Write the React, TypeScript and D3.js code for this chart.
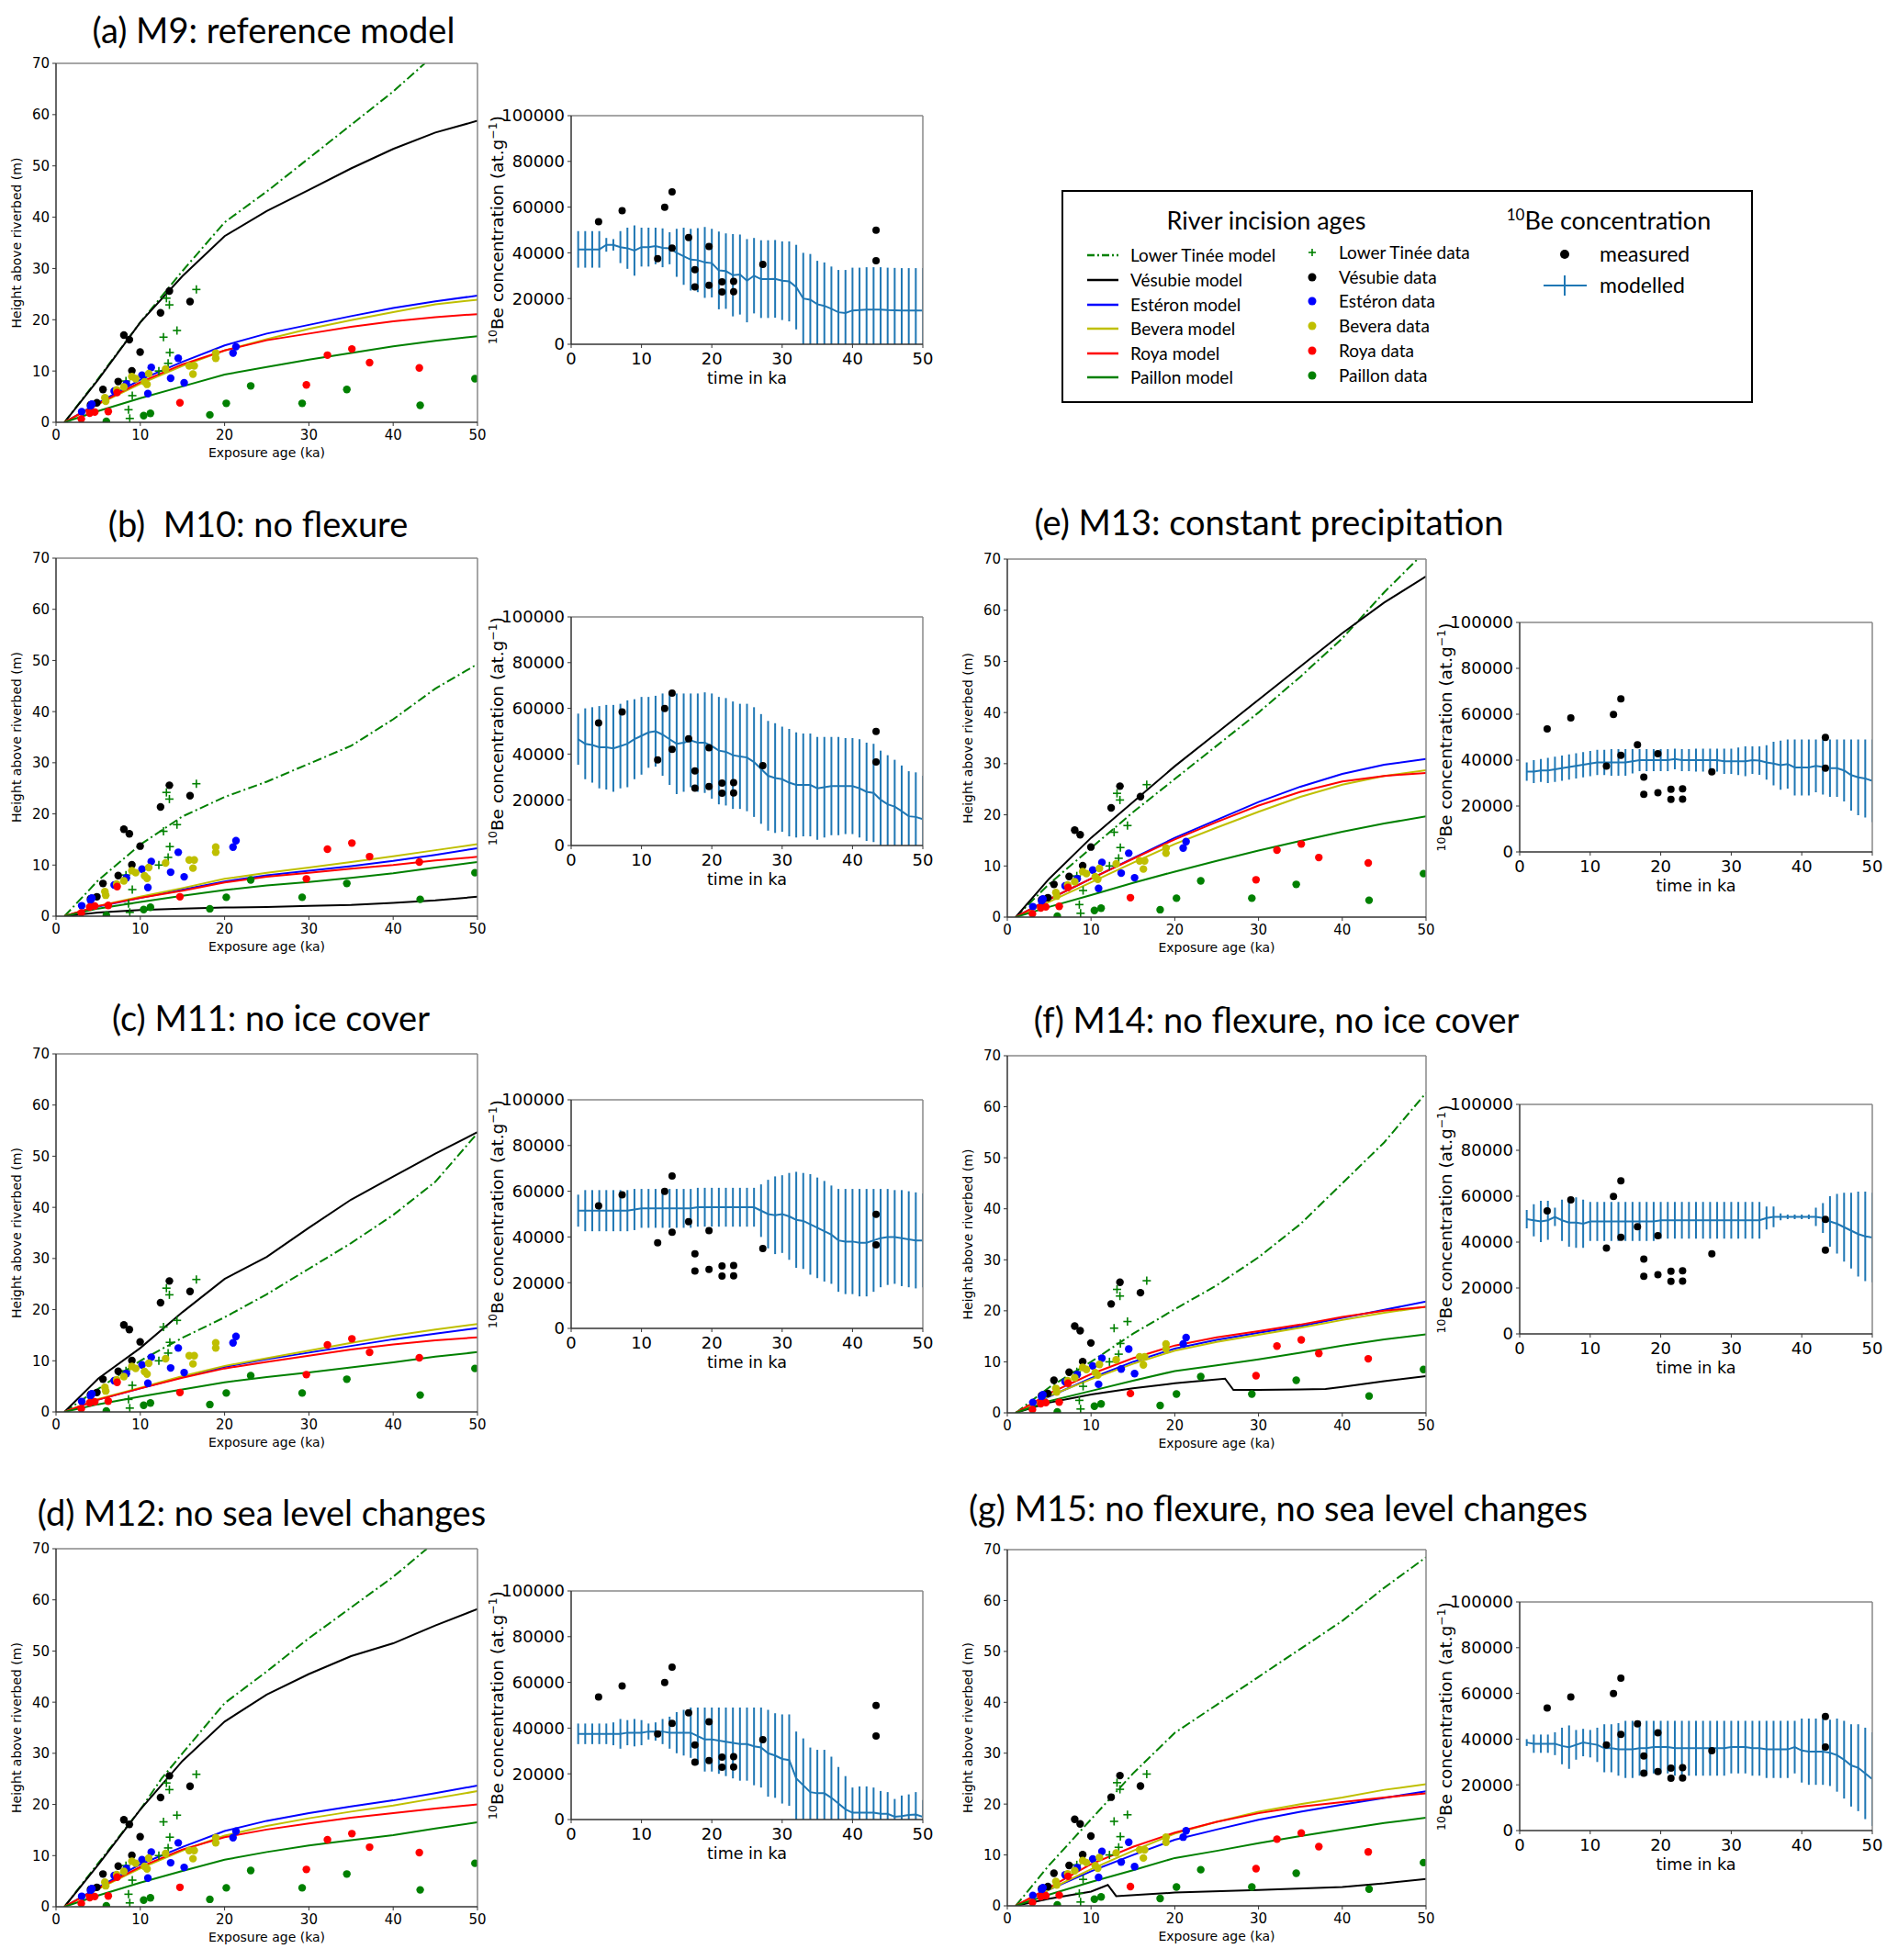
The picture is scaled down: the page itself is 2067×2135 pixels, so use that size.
import React from 'react';
import * as d3 from 'd3';

// ---------- measured data, same in every panel ----------
// terrace heights: [exposure age (ka), height above riverbed (m)]
const tineeObs = [[16.65, 25.9], [13.1, 24.2], [13.45, 22.9], [14.35, 17.9], [12.75, 16.6], [13.5, 13.6], [13.3, 11.5], [12.2, 10.0], [9.05, 5.2], [8.6, 2.45], [8.75, 0.75], [8.3, 8.05]];
const vesubieObs = [[5.57, 6.4], [7.38, 7.95], [8.05, 17.0], [8.7, 16.1], [9.0, 10.05], [9.98, 13.7], [12.4, 21.35], [13.45, 25.6], [15.9, 23.55], [4.85, 3.8], [4.1, 3.4]];
const esteronObs = [[3.05, 2.05], [4.25, 3.55], [4.1, 3.1], [6.9, 6.1], [8.35, 7.5], [10.2, 9.2], [11.3, 10.7], [10.9, 5.6], [14.5, 12.5], [13.6, 8.6], [15.2, 7.7], [21.0, 13.5], [21.35, 14.75]];
const beveraObs = [[5.8, 4.8], [5.9, 4.1], [7.2, 6.3], [8.05, 6.9], [9.0, 8.9], [9.45, 8.5], [11.0, 9.5], [10.8, 7.4], [10.5, 7.9], [13.0, 10.4], [15.8, 11.0], [16.4, 11.0], [16.25, 9.4], [18.95, 13.5], [18.95, 12.5]];
const royaObs = [[3.0, 0.65], [4.0, 1.8], [4.6, 2.0], [6.2, 2.1], [7.25, 5.8], [14.7, 3.8], [29.7, 7.3], [32.2, 13.1], [35.1, 14.3], [37.2, 11.65], [43.1, 10.6]];
const paillonObs = [[5.97, 0.2], [10.4, 1.3], [11.2, 1.75], [18.25, 1.45], [20.2, 3.7], [23.1, 7.1], [29.2, 3.7], [34.5, 6.4], [43.2, 3.3], [49.7, 8.5]];

// measured 10Be concentration
const beObsTime = [3.9, 7.25, 12.3, 13.3, 14.35, 14.35, 16.7, 17.6, 17.6, 19.6, 19.6, 21.45, 21.45, 23.1, 23.1, 27.25, 43.35, 43.35];
const beObsConc = [53600, 58400, 37400, 59900, 66700, 42100, 46700, 32600, 25100, 42800, 25800, 27300, 22900, 27500, 23000, 34900, 49900, 36500];

// ---------- modelled terrace heights (m) ----------
const ages = [1, 5, 10, 15, 20, 25, 30, 35, 40, 45, 50];

const modelA = {
  tinee: { t: [1, 5, 10, 12.5, 15, 20, 25, 30, 35, 40, 43.75], h: [0, 8.5, 19.5, 24.5, 29.5, 39, 45, 51.5, 58, 64.5, 70] },
  vesubie: [0, 8.3, 19.5, 28.5, 36.3, 41.2, 45.3, 49.5, 53.3, 56.5, 58.8],
  esteron: [0, 3.8, 8.3, 11.8, 15.0, 17.3, 19.0, 20.7, 22.3, 23.6, 24.7],
  bevera: [0, 3.5, 7.5, 11.0, 14.0, 16.2, 18.2, 19.9, 21.5, 23.0, 23.9],
  roya: [0, 3.6, 7.8, 11.3, 14.0, 16.0, 17.3, 18.6, 19.7, 20.5, 21.1],
  paillon: [0, 2.2, 4.7, 7.0, 9.3, 10.8, 12.2, 13.5, 14.8, 15.9, 16.8],
};
const modelB = {
  tinee: [0, 7, 14, 19.5, 23.3, 26.3, 29.8, 33.3, 38.5, 44.5, 49.3],
  vesubie: [0, 0.7, 1.2, 1.5, 1.7, 1.8, 2.0, 2.2, 2.6, 3.1, 3.8],
  esteron: [0, 1.9, 3.6, 5.2, 6.8, 8.0, 8.9, 9.8, 10.8, 12.0, 13.3],
  bevera: [0, 2.0, 3.8, 5.5, 7.3, 8.5, 9.5, 10.6, 11.7, 12.9, 14.1],
  roya: [0, 2.0, 3.6, 5.0, 6.6, 7.7, 8.5, 9.3, 10.0, 10.9, 11.6],
  paillon: [0, 1.5, 2.8, 4.0, 5.1, 6.0, 6.7, 7.5, 8.4, 9.5, 10.6],
};
const modelC = {
  tinee: [0, 4.5, 10, 14.5, 18.5, 23, 28, 33, 38.5, 45, 54.5],
  vesubie: [0, 6.5, 12.5, 19.5, 26, 30.3, 36, 41.5, 46, 50.5, 54.7],
  esteron: [0, 2.4, 4.6, 6.8, 8.8, 10.3, 11.6, 12.9, 14.2, 15.3, 16.4],
  bevera: [0, 2.5, 4.7, 7.0, 9.0, 10.5, 12.0, 13.5, 14.9, 16.1, 17.2],
  roya: [0, 2.4, 4.6, 6.7, 8.5, 9.8, 11.0, 12.2, 13.2, 14.0, 14.6],
  paillon: [0, 1.5, 3.0, 4.4, 5.8, 6.8, 7.7, 8.7, 9.7, 10.8, 11.7],
};
const modelD = {
  tinee: { t: [1, 5, 10, 12.5, 15, 20, 25, 30, 35, 40, 44], h: [0, 8.5, 19, 25, 30, 39.8, 46, 52.5, 58.5, 64.5, 70] },
  vesubie: [0, 8.2, 19, 28.5, 36.2, 41.5, 45.5, 49, 51.5, 55, 58.2],
  esteron: [0, 3.8, 8.3, 11.7, 14.8, 16.8, 18.3, 19.6, 20.8, 22.2, 23.7],
  bevera: [0, 3.5, 7.5, 11.0, 13.9, 15.8, 17.3, 18.6, 19.8, 21.2, 22.6],
  roya: [0, 3.6, 7.8, 11.2, 13.6, 15.1, 16.3, 17.4, 18.3, 19.2, 20.0],
  paillon: [0, 2.2, 4.7, 7.0, 9.2, 10.7, 12.0, 13.0, 14.0, 15.3, 16.5],
};
const modelE = {
  tinee: { t: [1, 5, 10, 15, 20, 25, 30, 35, 40, 45, 49], h: [0, 6.5, 13.5, 20.5, 27, 33.5, 40, 47, 54.5, 63.5, 70] },
  vesubie: [0, 7.5, 15.5, 22.5, 29.5, 36, 42.5, 49, 55.5, 61.5, 66.6],
  esteron: [0, 3.5, 7.5, 11.5, 15.5, 19, 22.5, 25.5, 28, 29.8, 30.9],
  bevera: [0, 3.0, 6.8, 10.6, 14.3, 17.5, 20.6, 23.5, 25.9, 27.6, 28.7],
  roya: [0, 3.5, 7.5, 11.4, 15.2, 18.6, 21.8, 24.5, 26.5, 27.6, 28.2],
  paillon: [0, 2.0, 4.3, 6.7, 8.9, 11.0, 13.0, 14.9, 16.7, 18.3, 19.7],
};
const modelF = {
  tinee: [0, 5, 10, 15.5, 20.3, 25, 30.5, 37, 45, 53, 62.7],
  vesubie: { t: [1, 5, 10, 15, 20, 26, 27, 30, 35, 38, 40, 45, 50], h: [0, 2, 3.6, 4.8, 5.8, 6.7, 4.5, 4.5, 4.6, 4.7, 5.1, 6.2, 7.2] },
  esteron: [0, 3.2, 6.8, 10.0, 12.6, 14.3, 15.7, 17.0, 18.6, 20.2, 21.8],
  bevera: [0, 3.3, 6.6, 9.6, 12.2, 13.9, 15.3, 16.7, 18.2, 19.6, 20.8],
  roya: [0, 3.8, 7.6, 10.7, 13.2, 14.8, 16.0, 17.3, 18.8, 20.0, 20.8],
  paillon: [0, 2.3, 4.3, 6.3, 8.2, 9.3, 10.5, 11.8, 13.2, 14.4, 15.4],
};
const modelG = {
  tinee: [0, 8, 17, 26, 34, 39.5, 45, 50.5, 56, 62.5, 68.5],
  vesubie: { t: [1, 5, 10, 12, 13, 20, 30, 40, 45, 50], h: [0, 1.4, 2.8, 4.1, 1.9, 2.6, 3.1, 3.7, 4.4, 5.3] },
  esteron: [0, 3.2, 6.8, 10.0, 13.0, 15.0, 16.9, 18.5, 19.9, 21.2, 22.5],
  bevera: [0, 3.2, 7.2, 10.8, 14.2, 16.5, 18.5, 20.0, 21.3, 22.8, 23.9],
  roya: [0, 3.6, 8.2, 11.6, 14.4, 16.5, 18.2, 19.5, 20.4, 21.3, 22.1],
  paillon: [0, 2.2, 4.7, 7.0, 9.4, 10.8, 12.3, 13.7, 15.0, 16.3, 17.3],
};

// ---------- modelled 10Be concentration, t = 1..50 ka ----------
const beTime = d3.range(1, 51);
const beMeanA = [41500, 41500, 41500, 41500, 43500, 43500, 42500, 42000, 41000, 42500, 42500, 43000, 42200, 42000, 40000, 38500, 37000, 36800, 35800, 35500, 32300, 32000, 30200, 30500, 27800, 30000, 28500, 28500, 28600, 27800, 27500, 25000, 20000, 19500, 17500, 16800, 15500, 14000, 13700, 14800, 15000, 15200, 15200, 15200, 15000, 14900, 14800, 14800, 14800, 14800];
const beErrA = [8000, 8000, 8000, 8000, 3000, 2500, 7000, 9000, 11000, 8500, 8500, 8000, 8500, 7000, 10500, 12500, 13500, 14000, 15500, 15000, 17000, 16500, 18000, 17500, 18200, 16500, 17000, 17000, 17000, 17200, 17500, 18500, 20000, 20000, 19000, 19000, 18500, 18500, 18800, 18700, 18500, 18500, 18500, 18500, 18500, 18500, 18500, 18500, 18500, 18500];
const beMeanB = [46500, 44500, 44000, 43000, 43000, 42500, 43500, 44500, 46500, 48000, 49500, 50000, 48500, 46500, 44500, 45000, 46000, 45000, 45000, 43500, 41500, 41000, 39500, 39000, 38500, 36500, 33500, 30500, 29500, 29000, 27500, 26500, 26500, 26500, 25000, 25500, 26000, 26000, 26000, 26000, 25000, 23500, 23000, 20000, 18000, 17000, 15000, 12800, 12500, 11500];
const beErrB = [11200, 15500, 16500, 18000, 18500, 19000, 18500, 19000, 17500, 17000, 15500, 15500, 18000, 20000, 22000, 21500, 20500, 21500, 22000, 23000, 23500, 23500, 23500, 23000, 23500, 24000, 24000, 24000, 24000, 23000, 23500, 23000, 22500, 22500, 22500, 22000, 21500, 21500, 21000, 21000, 21500, 21500, 21500, 21500, 21500, 20500, 20000, 19700, 19500, 19000];
const beMeanC = [51500, 51500, 51500, 51500, 51500, 51500, 51500, 51500, 52000, 52500, 52500, 52500, 52500, 52500, 52500, 52500, 52500, 53000, 53000, 53000, 53000, 53000, 53000, 53000, 53000, 53000, 51500, 50000, 49500, 50000, 49000, 47500, 47000, 45500, 44000, 42500, 41000, 38500, 38000, 38000, 37500, 37500, 38500, 39500, 40000, 40000, 39500, 39000, 38500, 38500];
const beErrC = [7000, 9000, 9000, 9000, 9000, 9000, 9000, 9000, 9000, 8500, 8500, 8500, 8500, 8500, 8500, 8500, 8500, 8500, 8500, 8500, 8500, 8500, 8500, 8500, 8500, 8500, 11500, 15000, 17000, 17000, 19000, 21000, 21000, 22000, 22000, 22000, 21500, 22500, 23000, 23000, 23500, 23500, 22500, 21500, 21000, 20500, 21000, 21000, 21000, 20500];
const beMeanD = [37500, 37500, 37500, 37500, 37500, 37500, 37500, 38000, 38000, 38000, 38500, 38500, 38500, 38000, 38000, 38000, 38000, 36500, 35000, 35000, 34500, 34000, 33500, 33000, 33000, 32000, 31500, 29000, 28000, 26500, 26000, 18000, 15000, 12000, 11500, 11500, 9500, 7000, 4500, 3000, 3000, 3000, 3000, 2500, 2500, 1200, 1500, 2000, 2200, 1200];
const beErrD = [4500, 4500, 4500, 4500, 4500, 5000, 6500, 5500, 6000, 5500, 3500, 4000, 5500, 7000, 9000, 10000, 11000, 12500, 14000, 14000, 14500, 15000, 15500, 16000, 16000, 17000, 17500, 19000, 18500, 19500, 20000, 20500, 20500, 19500, 19000, 19000, 18000, 16000, 14500, 11000, 11500, 11500, 11000, 10000, 9500, 7800, 9000, 9000, 9800, 7300];
const beMeanE = [35000, 35000, 35500, 35500, 36000, 36500, 37000, 37500, 38000, 38500, 39000, 39000, 39000, 39000, 39000, 39500, 40000, 40000, 40000, 40000, 40000, 40500, 40000, 40000, 40000, 40000, 40000, 40000, 39500, 39500, 39500, 39500, 40000, 39800, 39000, 38500, 37800, 38300, 36800, 36800, 36800, 37500, 37000, 36500, 36500, 35500, 33500, 32500, 32000, 31000];
const beErrE = [4000, 5000, 5000, 5500, 5500, 5500, 5500, 5500, 5500, 5500, 5500, 5500, 5800, 5800, 5800, 5300, 4800, 4800, 4800, 4800, 4800, 4500, 4800, 4800, 5000, 5000, 5000, 5000, 5500, 5500, 6000, 6500, 6000, 6200, 7500, 9500, 10700, 10700, 12200, 12200, 12200, 11500, 12000, 12500, 12500, 13500, 15500, 16500, 17000, 18000];
const beMeanF = [50000, 49500, 49000, 49500, 51000, 49500, 48500, 48500, 48000, 49000, 49000, 49000, 49000, 49000, 49000, 49000, 49000, 49000, 49000, 49500, 49500, 49500, 49500, 49500, 49500, 49500, 49500, 49500, 49500, 49500, 49500, 49500, 49500, 49500, 50500, 51000, 51000, 51000, 51000, 51000, 51000, 51000, 50500, 49000, 48000, 46500, 45000, 43500, 42500, 42000];
const beErrF = [4000, 7000, 9000, 8500, 4000, 9000, 10500, 11000, 10500, 8500, 8500, 8500, 8500, 8500, 8500, 8500, 8500, 8500, 8500, 8000, 8000, 8000, 8000, 8000, 8000, 8000, 8000, 8000, 8000, 8000, 8000, 8000, 8000, 8000, 5000, 4500, 1500, 1000, 1000, 1000, 1000, 4000, 6500, 11000, 13000, 15000, 16500, 18500, 19500, 19500];
const beMeanG = [38500, 38000, 38000, 38000, 38000, 37000, 36500, 37500, 38500, 38000, 37500, 36000, 36000, 35500, 35500, 35500, 36000, 36000, 36500, 36500, 36500, 36000, 36000, 36000, 36000, 36000, 36000, 36000, 36000, 36500, 36500, 36500, 36000, 36000, 35500, 35500, 35500, 35500, 36500, 35000, 34500, 34500, 34500, 34000, 33000, 31000, 28500, 27500, 25000, 22500];
const beErrG = [1500, 4000, 4000, 4000, 5000, 8000, 9500, 6500, 6000, 6000, 7500, 10500, 10500, 11500, 12500, 12500, 12000, 12000, 11500, 11500, 11500, 12000, 12000, 12000, 12000, 12000, 12000, 12000, 12000, 11500, 11500, 11500, 12000, 12000, 12500, 12500, 12500, 12500, 11500, 14000, 14500, 14500, 14500, 14500, 16000, 17000, 18000, 19000, 20000, 20500];

const rivers = ['tinee', 'vesubie', 'esteron', 'bevera', 'roya', 'paillon'];
const riverColor = { tinee: '#008000', vesubie: '#000000', esteron: '#0000ff', bevera: '#bfbf00', roya: '#ff0000', paillon: '#008000' };
const riverLabel = { tinee: 'Lower Tinée', vesubie: 'Vésubie', esteron: 'Estéron', bevera: 'Bevera', roya: 'Roya', paillon: 'Paillon' };
const obs = { vesubie: vesubieObs, esteron: esteronObs, bevera: beveraObs, roya: royaObs, paillon: paillonObs };

const panels = [
  { id: 'a', title: '(a) M9: reference model', tx: 298, ty: 47, left: [61, 69, 520, 460], right: [622, 126, 1005, 375], model: modelA, mean: beMeanA, err: beErrA },
  { id: 'b', title: '(b)  M10: no flexure', tx: 281, ty: 585, left: [61, 608, 520, 998], right: [622, 672, 1005, 921], model: modelB, mean: beMeanB, err: beErrB },
  { id: 'c', title: '(c) M11: no ice cover', tx: 295, ty: 1123, left: [61, 1148, 520, 1538], right: [622, 1198, 1005, 1447], model: modelC, mean: beMeanC, err: beErrC },
  { id: 'd', title: '(d) M12: no sea level changes', tx: 285, ty: 1662, left: [61, 1687, 520, 2077], right: [622, 1733, 1005, 1982], model: modelD, mean: beMeanD, err: beErrD },
  { id: 'e', title: '(e) M13: constant precipitation', tx: 1382, ty: 583, left: [1097, 609, 1553, 999], right: [1655, 678, 2039, 928], model: modelE, mean: beMeanE, err: beErrE },
  { id: 'f', title: '(f) M14: no flexure, no ice cover', tx: 1390, ty: 1125, left: [1097, 1150, 1553, 1539], right: [1655, 1203, 2039, 1453], model: modelF, mean: beMeanF, err: beErrF },
  { id: 'g', title: '(g) M15: no flexure, no sea level changes', tx: 1392, ty: 1657, left: [1097, 1688, 1553, 2076], right: [1655, 1745, 2039, 1994], model: modelG, mean: beMeanG, err: beErrG },
];

const AX_FONT = 'DejaVu Sans, sans-serif';
const TITLE_FONT = 'Lato, sans-serif';
const BE_BLUE = '#1f77b4';
const DASHDOT = '10,3.5,2,3.5';

function toPts(v) {
  return Array.isArray(v) ? ages.map((a, i) => [a, v[i]]) : v.t.map((a, i) => [a, v.h[i]]);
}

function Plus({ cx, cy, s, color }) {
  return (
    <g stroke={color} strokeWidth={1.6}>
      <line x1={cx - s} y1={cy} x2={cx + s} y2={cy} />
      <line x1={cx} y1={cy - s} x2={cx} y2={cy + s} />
    </g>
  );
}

function Frame({ l, t, r, b }) {
  return (
    <g fill="none">
      <line x1={l} y1={t} x2={r} y2={t} stroke="#888" strokeWidth={1.5} />
      <line x1={r} y1={t} x2={r} y2={b} stroke="#888" strokeWidth={1.5} />
      <line x1={l} y1={t} x2={l} y2={b} stroke="#333" strokeWidth={1.5} />
      <line x1={l} y1={b} x2={r} y2={b} stroke="#333" strokeWidth={1.5} />
    </g>
  );
}

function HeightPlot({ id, box, model }) {
  const [l, t, r, b] = box;
  const x = d3.scaleLinear().domain([0, 50]).range([l, r]);
  const y = d3.scaleLinear().domain([0, 70]).range([b, t]);
  const line = d3.line().x(d => x(d[0])).y(d => y(d[1]));
  const clip = `clipH${id}`;
  return (
    <g>
      <defs>
        <clipPath id={clip}><rect x={l} y={t} width={r - l} height={b - t} /></clipPath>
      </defs>
      <g clipPath={`url(#${clip})`}>
        {rivers.map(k => (
          <path key={k} d={line(toPts(model[k]))} fill="none" stroke={riverColor[k]} strokeWidth={2}
            strokeDasharray={k === 'tinee' ? DASHDOT : undefined} />
        ))}
        {tineeObs.map((p, i) => <Plus key={'p' + i} cx={x(p[0])} cy={y(p[1])} s={4.5} color="#008000" />)}
        {Object.keys(obs).map(k => obs[k].map((p, i) => (
          <circle key={k + i} cx={x(p[0])} cy={y(p[1])} r={4.2} fill={riverColor[k]} />
        )))}
      </g>
      <Frame l={l} t={t} r={r} b={b} />
      {x.ticks(5).map(v => (
        <g key={'x' + v}>
          <line x1={x(v)} x2={x(v)} y1={b} y2={b + 4} stroke="#333" />
          <text x={x(v)} y={b + 19} textAnchor="middle" fontSize={15} fontFamily={AX_FONT}>{v}</text>
        </g>
      ))}
      {y.ticks(7).map(v => (
        <g key={'y' + v}>
          <line x1={l - 4} x2={l} y1={y(v)} y2={y(v)} stroke="#333" />
          <text x={l - 7} y={y(v)} dy="0.36em" textAnchor="end" fontSize={15} fontFamily={AX_FONT}>{v}</text>
        </g>
      ))}
      <text x={(l + r) / 2} y={b + 38} textAnchor="middle" fontSize={14} fontFamily={AX_FONT}>Exposure age (ka)</text>
      <text transform={`translate(${l - 38},${(t + b) / 2}) rotate(-90)`} textAnchor="middle" fontSize={14} fontFamily={AX_FONT}>
        Height above riverbed (m)
      </text>
    </g>
  );
}

function ConcPlot({ id, box, mean, err }) {
  const [l, t, r, b] = box;
  const x = d3.scaleLinear().domain([0, 50]).range([l, r]);
  const y = d3.scaleLinear().domain([0, 100000]).range([b, t]);
  const line = d3.line().x((d, i) => x(beTime[i])).y(d => y(d));
  const clip = `clipC${id}`;
  return (
    <g>
      <defs>
        <clipPath id={clip}><rect x={l} y={t} width={r - l} height={b - t} /></clipPath>
      </defs>
      <g clipPath={`url(#${clip})`}>
        {beTime.map((tt, i) => (
          <line key={'e' + i} x1={x(tt)} x2={x(tt)} y1={y(mean[i] - err[i])} y2={y(mean[i] + err[i])} stroke={BE_BLUE} strokeWidth={2} />
        ))}
        <path d={line(mean)} fill="none" stroke={BE_BLUE} strokeWidth={2} />
        {beObsTime.map((tt, i) => <circle key={'o' + i} cx={x(tt)} cy={y(beObsConc[i])} r={4} fill="#000" />)}
      </g>
      <Frame l={l} t={t} r={r} b={b} />
      {x.ticks(5).map(v => (
        <g key={'x' + v}>
          <line x1={x(v)} x2={x(v)} y1={b} y2={b + 4} stroke="#333" />
          <text x={x(v)} y={b + 22} textAnchor="middle" fontSize={18} fontFamily={AX_FONT}>{v}</text>
        </g>
      ))}
      {y.ticks(5).map(v => (
        <g key={'y' + v}>
          <line x1={l - 4} x2={l} y1={y(v)} y2={y(v)} stroke="#333" />
          <text x={l - 7} y={y(v)} dy="0.36em" textAnchor="end" fontSize={18} fontFamily={AX_FONT}>{v}</text>
        </g>
      ))}
      <text x={(l + r) / 2} y={b + 43} textAnchor="middle" fontSize={17.5} fontFamily={AX_FONT}>time in ka</text>
      <text transform={`translate(${l - 74},${(t + b) / 2}) rotate(-90)`} textAnchor="middle" fontSize={18.5} fontFamily={AX_FONT}>
        <tspan fontSize={12.5} dy={-7}>10</tspan>
        <tspan dy={7}>Be concentration (at.g</tspan>
        <tspan fontSize={12.5} dy={-7}>−1</tspan>
        <tspan dy={7}>)</tspan>
      </text>
    </g>
  );
}

function Legend() {
  const rowY = [278, 305, 332, 358, 385, 411];
  const rowY2 = [275, 302, 328, 355, 382, 409];
  return (
    <g fontFamily={TITLE_FONT}>
      <rect x={1157} y={208} width={751} height={230} fill="#fff" stroke="#000" strokeWidth={2} />
      <text x={1379} y={250} textAnchor="middle" fontSize={27}>River incision ages</text>
      {rivers.map((k, i) => (
        <g key={k}>
          <line x1={1184} x2={1218} y1={rowY[i]} y2={rowY[i]} stroke={riverColor[k]} strokeWidth={2.5}
            strokeDasharray={k === 'tinee' ? '8,3,2,3' : undefined} />
          <text x={1231} y={rowY[i]} dy="0.35em" fontSize={19}>{riverLabel[k]} model</text>
          {k === 'tinee'
            ? <Plus cx={1429} cy={rowY2[i]} s={4} color="#008000" />
            : <circle cx={1429} cy={rowY2[i]} r={4.5} fill={riverColor[k]} />}
          <text x={1458} y={rowY2[i]} dy="0.35em" fontSize={19}>{riverLabel[k]} data</text>
        </g>
      ))}
      <text x={1752} y={250} textAnchor="middle" fontSize={27}>
        <tspan fontSize={17} dy={-10}>10</tspan>
        <tspan dy={10}>Be concentration</tspan>
      </text>
      <circle cx={1704} cy={277} r={5} fill="#000" />
      <text x={1742} y={277} dy="0.35em" fontSize={23}>measured</text>
      <line x1={1681} x2={1728} y1={311} y2={311} stroke={BE_BLUE} strokeWidth={2} />
      <line x1={1704} x2={1704} y1={300} y2={322} stroke={BE_BLUE} strokeWidth={2} />
      <text x={1742} y={311} dy="0.35em" fontSize={23}>modelled</text>
    </g>
  );
}

export default function App() {
  return (
    <svg width={2067} height={2135} viewBox="0 0 2067 2135"
      style={{ position: 'absolute', left: 0, top: 0, background: '#fff' }}>
      <rect width={2067} height={2135} fill="#fff" />
      {panels.map(p => (
        <g key={p.id}>
          <text x={p.tx} y={p.ty} textAnchor="middle" fontSize={38} fontFamily={TITLE_FONT} style={{ whiteSpace: 'pre' }}>{p.title}</text>
          <HeightPlot id={p.id} box={p.left} model={p.model} />
          <ConcPlot id={p.id} box={p.right} mean={p.mean} err={p.err} />
        </g>
      ))}
      <Legend />
    </svg>
  );
}
